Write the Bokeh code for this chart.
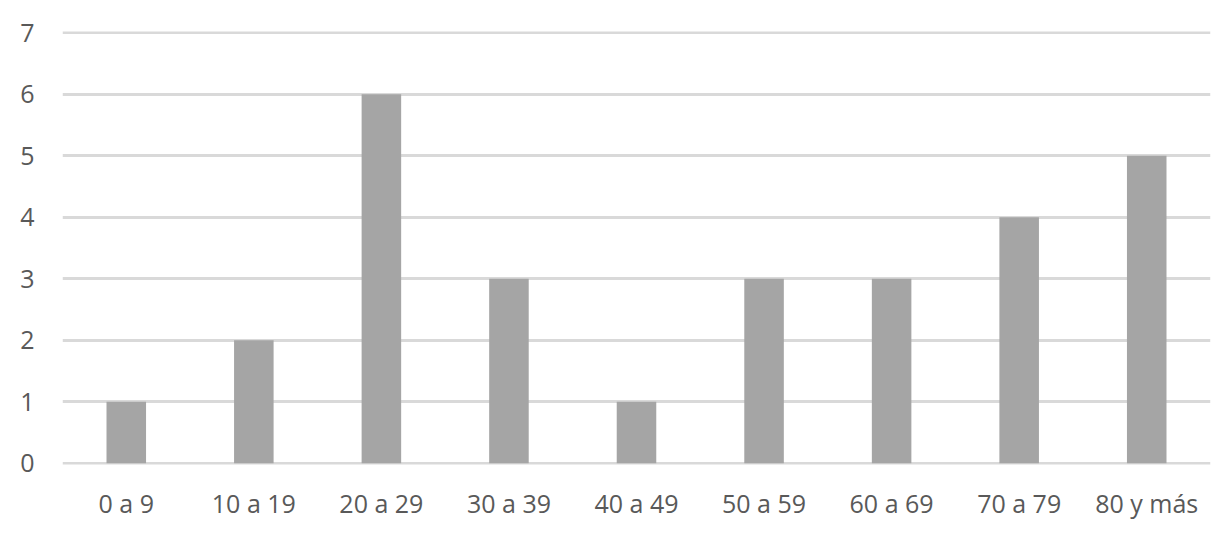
from bokeh.plotting import figure
from bokeh.models import Range1d, FixedTicker
from bokeh.embed import file_html
from bokeh.resources import INLINE

categories = ["0 a 9", "10 a 19", "20 a 29", "30 a 39", "40 a 49", "50 a 59", "60 a 69", "70 a 79", "80 y más"]
values = [1, 2, 6, 3, 1, 3, 3, 4, 5]
y_ticks = [0, 1, 2, 3, 4, 5, 6, 7]

FONT = "Open Sans"
TXT = "#595959"

p = figure(x_range=categories, y_range=Range1d(-0.02, 7.02), width=1216, height=522,
           output_backend="svg", toolbar_location=None,
           min_border_left=62, min_border_right=6, min_border_top=31, min_border_bottom=52)
p.vbar(x=categories, top=values, width=0.31, color="#A5A5A5", line_color=None)

p.outline_line_color = None
p.xgrid.grid_line_color = None
p.ygrid.grid_line_color = "#D9D9D9"
p.ygrid.grid_line_width = 3
p.yaxis.ticker = FixedTicker(ticks=y_ticks)

for ax in (p.xaxis[0], p.yaxis[0]):
    ax.axis_line_color = None
    ax.major_tick_line_color = None
    ax.minor_tick_line_color = None
    ax.major_tick_out = 0
    ax.major_tick_in = 0
    ax.major_label_text_font = FONT
    ax.major_label_text_font_size = "25px"
    ax.major_label_text_color = TXT

p.yaxis.major_label_standoff = 28
p.xaxis.major_label_standoff = 21

open("out.html", "w").write(file_html(p, INLINE))
